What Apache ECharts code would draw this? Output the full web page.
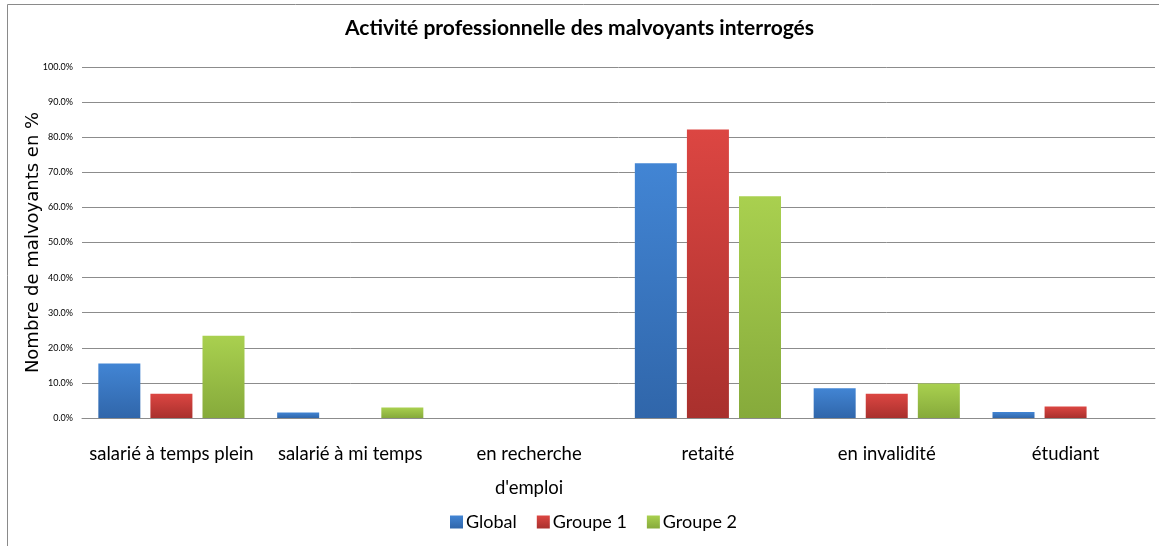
<!DOCTYPE html>
<html>
<head>
<meta charset="utf-8">
<script src="https://cdn.jsdelivr.net/npm/echarts@6/dist/echarts.min.js"></script>
<style>
  html, body { margin: 0; padding: 0; background: #fff; }
  #chart { width: 1159px; height: 546px; }
</style>
</head>
<body>
<div id="chart"></div>
<script>
'use strict';

// categories and values (percent)
const categories = ['salarié à temps plein', 'salarié à mi temps', "en recherche\nd'emploi", 'retaité', 'en invalidité', 'étudiant'];
const globalValues = [15.5, 1.6, 0, 72.6, 8.5, 1.7];
const groupe1Values = [6.9, 0, 0, 82.2, 6.9, 3.3];
const groupe2Values = [23.4, 3.0, 0, 63.2, 9.8, 0];
const seriesNames = ['Global', 'Groupe 1', 'Groupe 2'];
const yTicks = { min: 0, max: 100, interval: 10 };

const grad = (top, bottom) => new echarts.graphic.LinearGradient(0, 0, 0, 1, [
    {offset: 0, color: top},
    {offset: 1, color: bottom}
]);

const palette = [
    {fill: grad('#4285d4', '#3066aa'), legend: '#3a72bb'},
    {fill: grad('#dc4642', '#a9302d'), legend: '#c23b38'},
    {fill: grad('#a9d04f', '#86aa3b'), legend: '#98bd45'}
];

const makeSeries = (name, data, i) => ({
    name,
    type: 'bar',
    data,
    barWidth: 42,
    barGap: '24%',
    itemStyle: {color: palette[i].fill},
    emphasis: {disabled: true}
});

const chart = echarts.init(document.getElementById('chart'));
chart.setOption({
    animation: false,
    color: palette.map(p => p.legend),
    title: {
        text: 'Activité professionnelle des malvoyants interrogés',
        left: 'center',
        top: 13,
        textStyle: {fontFamily: 'Lato', fontWeight: 'bold', fontSize: 21, color: '#000'}
    },
    legend: {
        bottom: 10,
        left: 445,
        itemWidth: 13,
        itemHeight: 13,
        itemGap: 20,
        icon: 'rect',
        textStyle: {fontFamily: 'Lato', fontSize: 18, color: '#000', padding: [0, 0, 0, -2]},
        data: seriesNames
    },
    grid: {left: 82, right: 4, top: 67, bottom: 128, containLabel: false},
    xAxis: {
        type: 'category',
        data: categories,
        axisLine: {show: true, lineStyle: {color: '#8c8c8c'}},
        axisTick: {show: false},
        axisLabel: {
            fontFamily: 'Lato', fontSize: 18.5, color: '#000', margin: 19, lineHeight: 34,
            interval: 0
        }
    },
    yAxis: {
        type: 'value',
        min: yTicks.min,
        max: yTicks.max,
        interval: yTicks.interval,
        name: 'Nombre de malvoyants en %',
        nameLocation: 'middle',
        nameGap: 40,
        nameMoveOverlap: false,
        nameTextStyle: {fontFamily: 'DejaVu Sans', fontSize: 18, color: '#000'},
        axisLine: {show: false},
        axisTick: {show: false},
        axisLabel: {
            fontFamily: 'Lato', fontSize: 9, color: '#000', margin: 9,
            formatter: v => v.toFixed(1) + '%'
        },
        splitLine: {lineStyle: {color: '#8c8c8c', width: 1}}
    },
    graphic: [{
        type: 'rect',
        shape: {x: 7.5, y: 4.5, width: 1200, height: 600},
        style: {fill: 'none', stroke: '#8a8a8a', lineWidth: 1},
        silent: true
    }],
    series: [
        makeSeries(seriesNames[0], globalValues, 0),
        makeSeries(seriesNames[1], groupe1Values, 1),
        makeSeries(seriesNames[2], groupe2Values, 2)
    ]
});
</script>
</body>
</html>
